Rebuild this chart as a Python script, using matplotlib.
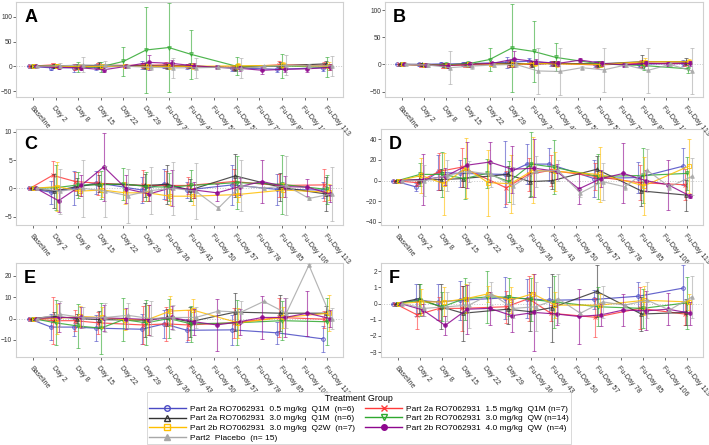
import numpy as np
import matplotlib.pyplot as plt
from matplotlib.lines import Line2D

plt.rcParams['font.family'] = ['Liberation Sans', 'DejaVu Sans']

visits = ['Baseline', 'Day 2', 'Day 8', 'Day 15', 'Day 22', 'Day 29', 'Fu-Day 36',
          'Fu-Day 43', 'Fu-Day 50', 'Fu-Day 57', 'Fu-Day 78', 'Fu-Day 85',
          'Fu-Day 106', 'Fu-Day 113']

# groups in dodge order
groups = ['Part 2a RO7062931  0.5 mg/kg  Q1M  (n=6)',
          'Part 2a RO7062931  1.5 mg/kg  Q1M (n=7)',
          'Part 2a RO7062931  3.0 mg/kg  Q1M  (n=6)',
          'Part 2b RO7062931  3.0 mg/kg  QW (n=14)',
          'Part 2b RO7062931  3.0 mg/kg  Q2W  (n=7)',
          'Part 2b RO7062931  4.0 mg/kg  QW  (n=4)',
          'Part2  Placebo  (n= 15)']
colors = ['#4a4ac4', '#ff3a3a', '#333333', '#2fa82f', '#ffbf00', '#8e078e', '#a8a8a8']
markers = ['o', 'x', '^', 'v', 's', 'o', '^']
filled = [False, False, False, False, False, True, True]
legend_order = [0, 2, 4, 6, 1, 3, 5]

N = None
# rows: blue, red, black, green, orange, purple, gray
A_mean = [[0, -3, -3, -2, N, 2, 1, 0, N, -3, N, -6, N, -3],
          [0, 3, -2, 2, N, 2, 3, 0, N, -2, N, 3, N, 2],
          [0, 1, 0, 2, N, 1, 0, 1, N, -3, N, 1, N, 5],
          [0, 1, -2, -1, 10, 33, 38, 24, N, 0, N, 1, N, -2],
          [0, 0, -1, 0, 0, 0, 0, 0, N, 1, N, 2, N, 0],
          [0, -2, -3, -7, 0, 8, 6, 1, -2, -4, -8, -6, -5, -2],
          [0, 1, 3, 2, 0, -2, -3, -3, -2, -4, 0, 2, 1, 1]]
A_err = [[0, 5, 8, 6, N, 8, 5, 5, N, 6, N, 6, N, 6],
         [0, 4, 6, 5, N, 5, 6, 4, N, 5, N, 8, N, 6],
         [0, 4, 5, 6, N, 6, 5, 5, N, 6, N, 7, N, 6],
         [0, 4, 10, 10, 30, 87, 90, 50, N, 18, N, 24, N, 20],
         [0, 3, 5, 5, 3, 5, 5, 6, N, 6, N, 6, N, 8],
         [0, 3, 5, 5, 3, 15, 6, 5, 4, 5, 7, 6, 7, 6],
         [0, 5, 15, 8, 3, 6, 20, 20, 4, 20, 3, 20, 3, 20]]

B_mean = [[0, 0, 1, 1, N, 4, 6, 2, N, 1, N, 0, N, 3],
          [0, -1, -2, -1, N, 1, 0, 2, N, -1, N, 2, N, 2],
          [0, 0, -1, 1, N, 2, 1, 2, N, 1, N, 5, N, 5],
          [0, -1, -1, 1, 9, 30, 24, 13, N, 1, N, -2, N, -8],
          [0, -1, -2, 0, 1, 0, 2, 1, N, 0, N, 5, N, 5],
          [0, -1, -2, 0, 2, 10, 5, 2, 8, 2, -1, 2, 1, 2],
          [0, -1, -6, -3, -1, 0, -12, -13, -6, -10, -1, -11, 0, -12]]
B_err = [[0, 3, 4, 4, N, 10, 5, 5, N, 5, N, 5, N, 5],
         [0, 3, 4, 4, N, 5, 5, 5, N, 5, N, 6, N, 5],
         [0, 3, 4, 4, N, 6, 5, 5, N, 5, N, 12, N, 6],
         [0, 4, 5, 5, 22, 81, 56, 26, N, 6, N, 8, N, 8],
         [0, 3, 4, 4, 3, 5, 5, 5, N, 5, N, 6, N, 5],
         [0, 3, 4, 4, 3, 15, 5, 5, 3, 5, 3, 5, 3, 5],
         [0, 3, 30, 6, 3, 4, 42, 43, 3, 40, 3, 42, 3, 42]]

C_mean = [[0, -0.7, 0, 1, N, -0.3, 0.8, -0.3, N, 0.6, N, -0.2, N, -0.3],
          [0, 2.3, 1.2, 0.9, N, 0.5, 0.5, 0.5, N, 1.2, N, 0.5, N, 0.6],
          [0, -0.5, 0.3, 0.8, N, 0.5, 0.7, -0.3, N, 2.2, N, 0.2, N, -1.0],
          [0, 0.1, 0.6, 0.6, 0.8, 0.3, 0.2, 0.5, N, 1.0, N, 0.7, N, -0.2],
          [0, 0.3, -0.5, -0.3, -0.8, -0.8, -1.4, -1.4, N, -1.1, N, -0.3, N, -0.7],
          [0, -2.2, 0.5, 3.8, -0.1, -1.0, 0.1, -0.3, -0.8, 0.3, 1.2, 0.3, 0.2, -1.0],
          [0, -0.5, 0, -0.5, -1.3, -0.4, 0, -0.5, -3.5, 0.5, 0, 0.5, -1.8, -1.0]]
C_err = [[0, 2, 3, 2, N, 2.3, 2.7, 1.5, N, 3.6, N, 2.7, N, 1.5],
         [0, 2.6, 1.6, 2, N, 2.8, 2.5, 1.5, N, 2.3, N, 2, N, 2.8],
         [0, 3, 1.5, 1.5, N, 2, 3.5, 2, N, 3.8, N, 2.5, N, 3],
         [0, 4, 2.3, 2.5, 2.8, 2.5, 2.5, 2.8, N, 4.7, N, 5.2, N, 2.5],
         [0, 4.3, 0.9, 1.2, 2, 1.5, 1.5, 1.5, N, 1.4, N, 1.3, N, 1.4],
         [0, 2, 1.8, 6, 2.5, 1.3, 3.2, 1.5, 1.5, 1.5, 3.8, 1.8, 1.5, 1.5],
         [0, 4, 5, 4.5, 4.8, 4.2, 4.7, 5, 0.3, 4.5, 0.3, 5.3, 0.3, 4.8]]

D_mean = [[0, -6, 8, 7, N, 6, 16, 16, N, 2, N, 3, N, 14],
          [0, -2, 9, 13, N, -7, 6, 10, N, 4, N, -2, N, -4],
          [0, 1, 1, 2, N, 6, -1, 0, N, 11, N, -10, N, -14],
          [0, 6, 6, 2, 7, -1, 16, 13, N, 4, N, 5, N, 7],
          [0, 5, -3, 12, -2, -3, 10, 9, N, 6, N, -5, N, 14],
          [0, 1, 4, 15, 18, 11, 12, 9, -8, 2, 7, 0, -4, -15],
          [0, 0, 5, 9, 6, -5, 9, 10, -12, -1, -6, 10, -6, 4]]
D_err = [[0, 4, 17, 13, N, 32, 19, 16, N, 18, N, 15, N, 18],
         [0, 3, 18, 19, N, 16, 16, 15, N, 13, N, 17, N, 15],
         [0, 3, 10, 8, N, 8, 15, 8, N, 13, N, 15, N, 15],
         [0, 11, 22, 20, 14, 20, 31, 26, N, 22, N, 27, N, 16],
         [0, 17, 30, 29, 32, 28, 32, 19, N, 27, N, 28, N, 26],
         [0, 25, 8, 22, 19, 23, 28, 7, 15, 8, 29, 10, 24, 2],
         [0, 15, 15, 10, 12, 18, 15, 10, 4, 18, 3, 21, 3, 18]]

E_mean = [[0, -4, -4, -4.5, N, -5, -2.5, -5.5, N, -5.3, N, -6.7, N, -9.5],
          [0, -1, -1, -2, N, -3, -2.5, -3, N, -2, N, 0.5, N, -0.3],
          [0, 1, 0, -0.5, N, -0.8, 0.5, -1.5, N, 3, N, 2.5, N, 2.5],
          [0, -2, -3.5, -4.5, -0.5, -2, 0, -2.5, N, -2, N, -1, N, -1.5],
          [0, 0, 1, 0.5, -0.5, -0.5, 3.5, 4, N, -2, N, 0.5, N, 2.5],
          [0, 0.5, 0.5, 0.3, 0, -0.5, 0.5, -1.5, -3, -1.5, 0.5, 0.5, 2.5, 0],
          [0, 2, 0.5, 0.5, 1.5, 0, 0.5, 0.5, 3.5, 3, 8, 2.5, 25, 0]]
E_err = [[0, 6, 4, 6, N, 7, 6.5, 5.5, N, 7, N, 5, N, 6],
         [0, 11, 5, 5, N, 9, 8, 7, N, 7, N, 9, N, 4],
         [0, 2, 2, 4, N, 8, 4, 7, N, 9, N, 8.5, N, 3.5],
         [0, 10.5, 10.5, 12, 10, 10.5, 9, 8.5, N, 10.5, N, 9, N, 11],
         [0, 7, 5, 5, 5, 7, 7, 5, N, 7, N, 5, N, 8.5],
         [0, 7, 5, 6, 5, 7, 5.5, 6, 12, 6, 10, 9, 10.5, 4],
         [0, 6, 5, 7, 6, 8, 6, 5, 0.3, 5, 0.3, 7, 0.3, 5]]

F_mean = [[0, 0.2, 0.1, 0.2, N, 0.35, 0.3, 0.2, N, 0.25, N, 0.45, N, 0.95],
          [0, -0.7, -0.3, -0.3, N, -0.2, 0.3, -0.6, N, -0.85, N, -0.3, N, -0.65],
          [0, 0.3, -0.2, -0.6, N, -0.35, -0.5, -0.25, N, 0.75, N, -0.65, N, -0.55],
          [0, 0.2, -0.2, 0.3, 0.4, 0.4, 0.25, 0.1, N, -0.2, N, -0.3, N, 0.05],
          [0, 0.1, 0.1, 0.3, 0.6, 0.2, 0.6, -0.1, N, -0.1, N, 0.2, N, 0.1],
          [0, -0.4, -1.35, -0.35, -0.3, -0.75, -0.55, -0.65, -0.8, -0.7, -0.4, -0.45, -0.35, -0.6],
          [0, -0.3, -0.2, -0.1, 0.6, -0.3, -0.2, 0.3, -0.6, 0.1, -0.1, 0.2, -0.4, 0.4]]
F_err = [[0, 1, 1.1, 1.2, N, 1.3, 1.2, 0.8, N, 0.6, N, 0.9, N, 1.4],
         [0, 0.85, 0.7, 1.4, N, 1, 1.4, 0.5, N, 1.2, N, 1.3, N, 0.7],
         [0, 0.9, 1.4, 1.7, N, 0.9, 1.2, 2.1, N, 1.6, N, 1.05, N, 0.8],
         [0, 1, 0.9, 1.3, 1.6, 1.2, 1.3, 1.6, N, 1.2, N, 1.2, N, 1.6],
         [0, 0.8, 0.9, 0.9, 0.5, 0.8, 1.2, 0.8, N, 0.7, N, 0.9, N, 0.5],
         [0, 0.4, 0.6, 1.5, 1, 1, 2.4, 0.7, 1.7, 0.7, 1, 1.2, 1, 0.7],
         [0, 0.5, 0.9, 1.4, 0.7, 0.6, 1.5, 1.5, 0.05, 1, 0.05, 1.1, 0.05, 1.3]]

panels = [('A', A_mean, A_err, [-50, 0, 50, 100], (-62, 130), [16, 2, 343, 97]),
          ('B', B_mean, B_err, [-50, 0, 50, 100], (-60, 115), [385, 2, 703, 97]),
          ('C', C_mean, C_err, [-5, 0, 5, 10], (-6.5, 10.5), [16, 129, 343, 225]),
          ('D', D_mean, D_err, [-40, -20, 0, 20, 40], (-43, 50), [381, 129, 703, 225]),
          ('E', E_mean, E_err, [-10, 0, 10, 20], (-18, 26), [16, 263, 343, 357]),
          ('F', F_mean, F_err, [-3, -2, -1, 0, 1, 2], (-3.3, 2.5), [381, 263, 703, 357])]

W, H = 709, 445
fig = plt.figure(figsize=(W / 100, H / 100), dpi=100)
dodge = 0.065
xs = np.arange(len(visits))

for letter, means, errs, yt, ylim, box in panels:
    x0, y0, x1, y1 = box
    ax = fig.add_axes([x0 / W, 1 - y1 / H, (x1 - x0) / W, (y1 - y0) / H])
    ax.axhline(0, color='#c8c8c8', lw=0.7, ls=':', zorder=0)
    for i in range(len(groups)):
        m = np.array(means[i], dtype=float)
        e = np.array(errs[i], dtype=float)
        ok = ~np.isnan(m)
        x = xs + (i - 3) * dodge
        eb = ax.errorbar(x[ok], m[ok], yerr=e[ok], color=colors[i], marker=markers[i],
                         ms=2.6, mew=0.7, lw=0.85,
                         mfc=colors[i] if filled[i] else 'none',
                         elinewidth=0.8, capsize=1.2, capthick=0.6, zorder=2 + i * 0.1)
        eb[0].set_alpha(0.85)
        for c in eb[1]:
            c.set_alpha(0.6)
        for c in eb[2]:
            c.set_alpha(0.6)
    ax.set_xlim(-0.75, 13.7)
    ax.set_ylim(*ylim)
    ax.set_yticks(yt)
    ax.set_xticks(xs)
    ax.set_xticklabels(visits, rotation=-50, ha='left', va='top', rotation_mode='anchor')
    ax.tick_params(labelsize=4.8, colors='#333333', length=2, width=0.5, pad=0.8)
    ax.tick_params(axis='x', labelsize=5.1, pad=3.5)
    for s in ax.spines.values():
        s.set_color('#d0d0d0')
        s.set_linewidth(0.8)
    ax.text(0.025, 0.93, letter, transform=ax.transAxes, fontsize=13, fontweight='bold',
            va='top', ha='left')

handles = []
for i in legend_order:
    handles.append(Line2D([0], [0], color=colors[i], marker=markers[i], ms=4, lw=1,
                          mfc=colors[i] if filled[i] else 'none', label=groups[i]))
leg = fig.legend(handles=handles, loc='upper left', bbox_to_anchor=(147 / W, 1 - 392 / H),
                 ncol=2, fontsize=6.0, title='Treatment Group', title_fontsize=6.4,
                 frameon=True, handlelength=4.4, columnspacing=1.3, labelspacing=0.22,
                 borderpad=0.25, handletextpad=0.45, fancybox=False, borderaxespad=0)
leg.get_frame().set_edgecolor('#c8c8c8')
leg.get_frame().set_linewidth(0.6)

fig.savefig('out.png', dpi=100)
